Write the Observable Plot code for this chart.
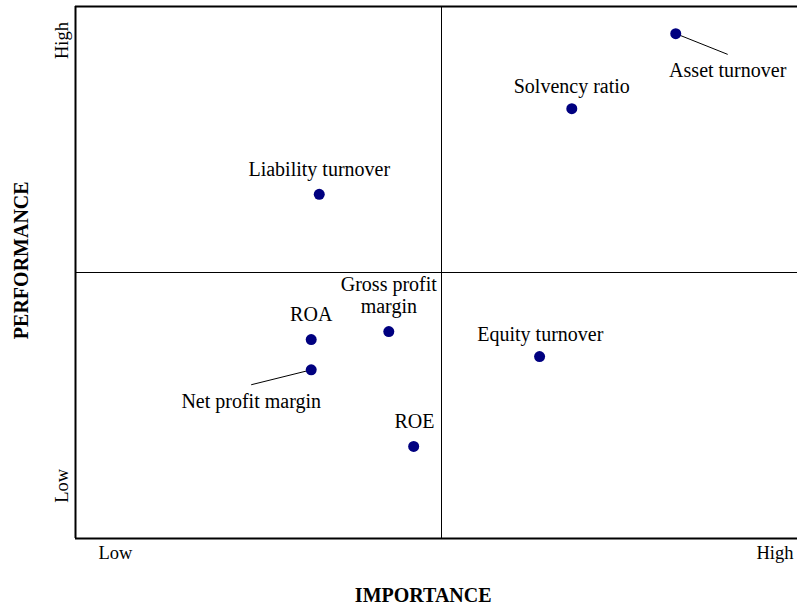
<!DOCTYPE html>
<html>
<head>
<meta charset="utf-8">
<script src="https://cdn.jsdelivr.net/npm/d3@7"></script>
<script src="https://cdn.jsdelivr.net/npm/@observablehq/plot@0.6"></script>
<style>
  html, body { margin: 0; padding: 0; background: #fff; }
</style>
</head>
<body>
<div id="chart"></div>
<script>
// Indicators (importance = x, performance = y, on a 0–10 scale)
const names = ["Asset turnover", "Solvency ratio", "Liability turnover", "ROA", "Net profit margin", "Gross profit\nmargin", "Equity turnover", "ROE"];
const importance = [8.20, 6.78, 3.33, 3.22, 3.22, 4.28, 6.34, 4.62];
const performance = [9.49, 8.08, 6.47, 3.74, 3.17, 3.89, 3.42, 1.73];
// Label anchor positions (same scale)
const labelX = [8.91, 6.78, 3.33, 3.22, 2.40, 4.28, 6.35, 4.63];
const labelY = [8.68, 8.38, 6.82, 4.08, 2.46, 4.23, 3.72, 2.07];
// Leader lines (from point to label)
const leaderFrom = ["Asset turnover", "Net profit margin"];
const leaderToX = [8.91, 2.40];
const leaderToY = [9.10, 2.89];
// Axes
const xTickLabels = ["Low", "High"];
const xTickPos = [0.546, 9.556];
const yTickLabels = ["Low", "High"];
const yTickPos = [0.99, 9.36];
const midpoint = 5;
const xTitle = "IMPORTANCE";
const yTitle = "PERFORMANCE";

const points = names.map((n, i) => ({name: n, x: importance[i], y: performance[i], lx: labelX[i], ly: labelY[i]}));
const leaders = leaderFrom.map((n, i) => {
  const p = points.find(d => d.name === n);
  return {x1: p.x, y1: p.y, x2: leaderToX[i], y2: leaderToY[i]};
});
const xTicks = xTickLabels.map((t, i) => ({t, x: xTickPos[i]}));
const yTicks = yTickLabels.map((t, i) => ({t, y: yTickPos[i]}));

const chart = Plot.plot({
  width: 797,
  height: 607,
  marginLeft: 75,
  marginRight: 0,
  marginTop: 6,
  marginBottom: 69,
  style: {fontFamily: "'Liberation Serif', 'Times New Roman', serif", fontSize: "20px", background: "#fff", color: "#000"},
  x: {domain: [0, 10], range: [75, 807], axis: null},
  y: {domain: [0, 10], axis: null},
  marks: [
    // quadrant dividers
    Plot.ruleX([midpoint], {stroke: "#000", strokeWidth: 1}),
    Plot.ruleY([midpoint], {stroke: "#000", strokeWidth: 1}),
    // frame
    Plot.ruleX([0], {stroke: "#000", strokeWidth: 2}),
    Plot.ruleY([0, 10], {stroke: "#000", strokeWidth: 2}),
    // leader lines
    Plot.link(leaders, {x1: "x1", y1: "y1", x2: "x2", y2: "y2", stroke: "#000", strokeWidth: 1}),
    // points
    Plot.dot(points, {x: "x", y: "y", r: 5.5, fill: "#000080", stroke: "none"}),
    // labels
    Plot.text(points, {x: "lx", y: "ly", text: "name", textAnchor: "middle", lineAnchor: "bottom", lineHeight: 1.1, fontSize: 20, fill: "#000"}),
    // tick labels
    Plot.text(xTicks, {x: "x", text: "t", frameAnchor: "bottom", dy: 20, lineAnchor: "bottom", textAnchor: "middle", fontSize: 18.5, fill: "#000"}),
    Plot.text(yTicks, {y: "y", text: "t", frameAnchor: "left", dx: -8, rotate: -90, lineAnchor: "bottom", textAnchor: "middle", fontSize: 18.5, fill: "#000"}),
    // axis titles
    Plot.text([xTitle], {x: 4.75, text: d => d, frameAnchor: "bottom", dy: 63, lineAnchor: "bottom", textAnchor: "middle", fontSize: 20, fontWeight: "bold", fill: "#000"}),
    Plot.text([yTitle], {y: 5.23, text: d => d, frameAnchor: "left", dx: -48, rotate: -90, lineAnchor: "bottom", textAnchor: "middle", fontSize: 20, fontWeight: "bold", fill: "#000"})
  ]
});
document.getElementById("chart").appendChild(chart);
</script>
</body>
</html>
